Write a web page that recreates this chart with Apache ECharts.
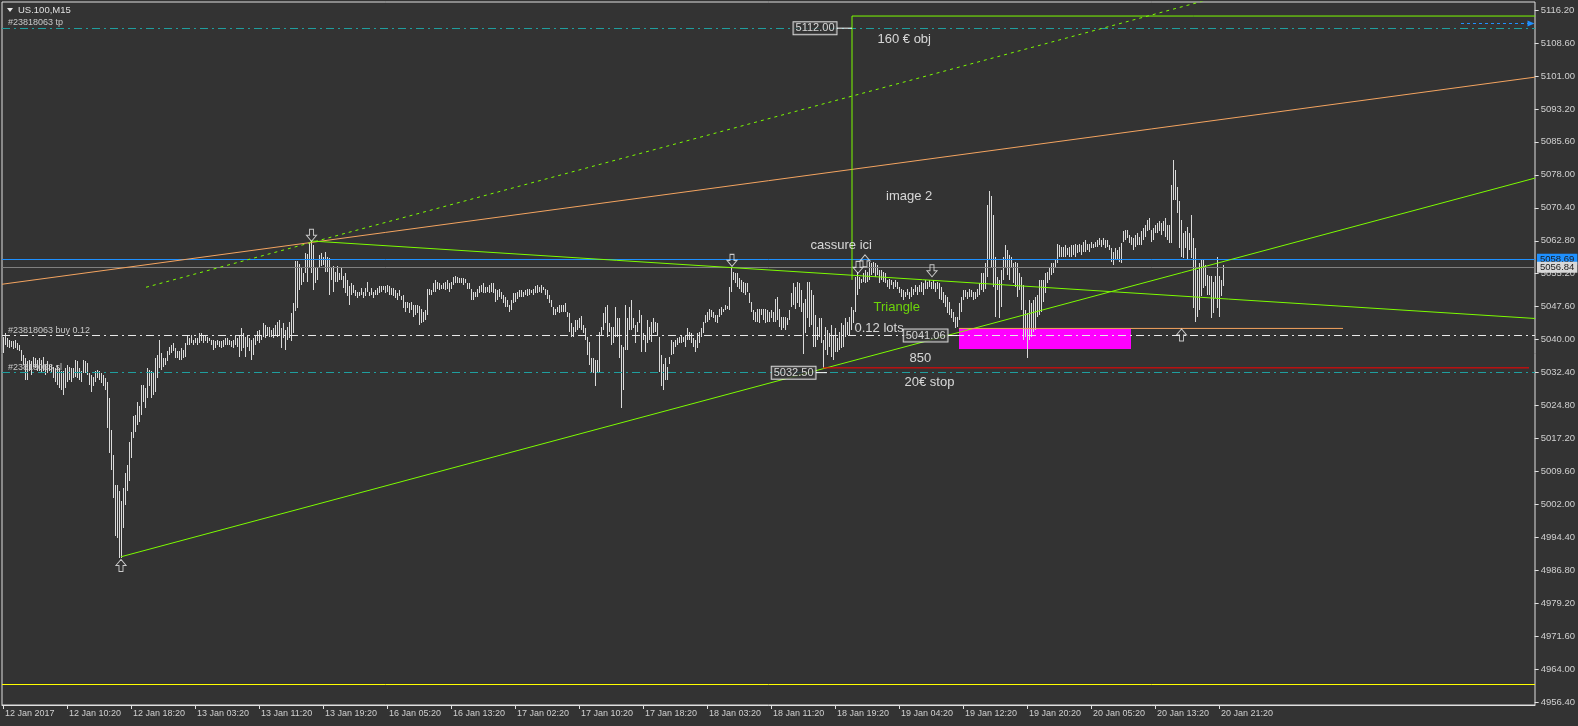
<!DOCTYPE html>
<html><head><meta charset="utf-8">
<script src="https://cdn.jsdelivr.net/npm/echarts@6/dist/echarts.min.js"></script>
<style>html,body{margin:0;padding:0;background:#333333;}#c{width:1578px;height:726px;}</style>
</head><body><div id="c"></div>
<script>
// ---- bar data (M15 bars, one per bar index) ----
const barHigh = [
5040.8,5041.6,5040.4,5040.1,5039.8,5039.7,5040.1,5039.3,5038.9,5037.8,5036.6,5035.8,5035.1,5035.4,5035.1,5036.2,5035.8,5035.4,5035.8,5035.4,
5036.2,5034.3,5035.1,5034.3,5034.3,5033.9,5033.5,5034.3,5033.5,5032.8,5032.8,5033.5,5034.3,5033.9,5033.5,5033.5,5035.4,5035.1,5033.5,5032.8,
5035.4,5035.1,5034.7,5032.4,5032.0,5031.6,5032.8,5033.1,5032.9,5032.4,5032.0,5031.2,5030.4,5026.6,5019.3,5013.5,5006.6,5006.6,5005.1,5002.8,
5005.8,5009.3,5011.2,5016.6,5018.9,5022.4,5022.8,5025.8,5024.7,5029.7,5029.7,5028.9,5033.5,5033.1,5032.8,5032.4,5035.8,5036.6,5040.1,5037.0,
5035.8,5035.8,5037.4,5038.5,5038.9,5039.3,5038.1,5037.4,5037.4,5038.1,5037.8,5039.3,5041.2,5040.4,5041.2,5040.1,5040.4,5040.4,5041.6,5041.6,
5041.2,5041.2,5040.8,5040.4,5040.1,5040.1,5039.7,5040.1,5039.7,5039.7,5040.1,5040.4,5040.4,5040.1,5039.7,5040.1,5041.2,5040.4,5041.2,5042.7,
5041.6,5040.8,5041.2,5040.4,5040.1,5040.4,5041.2,5042.0,5042.4,5041.2,5043.9,5043.5,5043.1,5043.1,5042.4,5042.7,5043.5,5044.3,5044.7,5042.7,
5043.9,5042.4,5043.1,5044.3,5046.2,5048.5,5058.3,5058.3,5057.5,5056.6,5055.4,5060.1,5059.8,5062.4,5062.8,5062.0,5056.6,5056.6,5059.7,5060.1,
5059.3,5060.4,5059.3,5058.9,5056.6,5057.0,5055.8,5057.0,5055.4,5056.6,5054.7,5055.4,5053.9,5052.4,5053.1,5052.8,5051.6,5051.2,5051.2,5052.0,
5051.2,5052.0,5053.5,5051.2,5052.0,5051.2,5051.6,5052.0,5052.4,5052.4,5052.4,5052.4,5052.8,5052.4,5052.0,5052.0,5051.6,5050.8,5051.6,5050.1,
5050.4,5048.9,5048.9,5048.5,5048.9,5048.1,5048.1,5048.1,5047.8,5047.3,5046.6,5046.9,5051.9,5051.9,5051.6,5053.1,5053.9,5053.5,5053.1,5052.7,
5053.1,5053.5,5053.9,5053.1,5053.5,5054.6,5054.8,5054.6,5054.3,5054.3,5054.3,5054.0,5053.3,5053.3,5051.9,5051.2,5051.2,5051.9,5052.5,5052.7,
5053.3,5052.3,5052.3,5052.7,5053.1,5053.3,5051.9,5051.6,5051.9,5051.2,5050.4,5050.0,5049.3,5048.1,5049.3,5050.8,5050.9,5051.2,5051.6,5051.6,
5051.2,5051.6,5051.7,5051.7,5051.6,5051.9,5052.5,5052.7,5052.3,5052.7,5052.3,5051.7,5051.6,5050.4,5049.3,5047.7,5047.3,5047.7,5048.1,5048.1,
5048.1,5048.5,5046.6,5046.2,5043.9,5043.1,5044.6,5044.6,5045.0,5045.6,5043.5,5042.7,5040.8,5039.6,5035.8,5035.8,5035.4,5035.4,5041.9,5043.1,
5046.2,5047.7,5048.1,5043.9,5043.1,5043.1,5047.7,5045.0,5045.0,5038.9,5038.5,5048.1,5045.0,5047.7,5049.3,5045.0,5043.5,5044.3,5046.9,5045.8,
5041.6,5041.2,5044.6,5043.1,5044.3,5045.0,5044.3,5043.9,5040.8,5036.6,5034.6,5035.8,5033.9,5036.2,5040.0,5039.6,5040.0,5040.4,5040.8,5041.2,
5040.8,5041.2,5042.7,5041.9,5041.6,5040.4,5040.0,5041.6,5041.9,5042.7,5044.3,5045.8,5046.6,5047.1,5046.9,5046.6,5045.8,5045.8,5047.3,5047.7,
5047.3,5048.1,5047.9,5052.3,5056.9,5055.8,5055.4,5055.4,5054.3,5053.9,5053.5,5053.1,5053.1,5050.8,5048.9,5046.9,5046.6,5047.3,5047.3,5047.3,
5047.3,5047.3,5046.9,5046.6,5046.9,5046.6,5049.6,5050.0,5047.3,5045.4,5045.4,5045.4,5045.0,5046.9,5050.8,5053.1,5052.3,5053.5,5053.1,5051.6,
5048.5,5049.6,5053.5,5053.5,5051.6,5050.4,5045.8,5043.1,5045.0,5045.0,5040.0,5043.1,5042.3,5041.6,5043.5,5041.2,5042.7,5040.4,5041.9,5043.9,
5043.5,5045.0,5044.3,5045.4,5047.7,5046.9,5054.6,5055.8,5054.6,
5054.2,5055.4,5056.2,5055.8,5058.1,5057.7,5058.1,5057.7,5057.3,5056.2,5056.2,5055.8,5055.4,5053.9,5054.2,5053.9,5053.5,5053.9,5053.5,5052.3,
5051.9,5051.6,5051.2,5051.9,5051.2,5052.3,5051.9,5052.7,5052.3,5052.7,5053.5,5053.1,5053.9,5053.5,5053.9,5053.5,5053.9,5053.1,5053.5,5053.1,
5052.3,5051.2,5050.4,5050.0,5048.9,5047.3,5046.6,5045.4,5045.4,5048.5,5050.0,5051.6,5051.6,5051.2,5051.9,5051.6,5051.2,5051.2,5051.9,5053.1,
5055.4,5055.4,5057.7,5071.2,5074.4,5073.3,5068.9,5059.2,5054.6,5053.9,5056.2,5059.2,5061.9,5060.8,5059.6,5059.2,5057.7,5058.1,5057.7,5055.4,
5054.6,5052.7,5046.9,5046.2,5049.2,5048.5,5049.2,5050.0,5050.4,5053.9,5053.9,5053.9,5055.4,5055.8,5056.9,5057.7,5057.7,5058.5,5062.3,5061.9,
5061.6,5061.6,5061.9,5061.2,5061.6,5061.9,5061.9,5062.3,5061.9,5062.3,5061.9,5062.7,5063.1,5062.3,5062.3,5062.7,5062.3,5062.7,5063.1,5063.5,
5063.1,5063.5,5063.1,5063.1,5062.0,5061.2,5060.4,5061.2,5060.8,5061.6,5062.4,5065.1,5065.4,5065.4,5064.3,5063.9,5063.5,5064.3,5064.7,5063.9,
5065.1,5065.8,5066.6,5067.7,5068.1,5065.4,5065.8,5066.6,5067.0,5067.4,5067.0,5067.4,5068.1,5066.6,5066.6,5075.8,5081.6,5079.3,5075.4,5072.0,
5067.7,5064.7,5065.1,5066.2,5064.7,5068.9,5063.5,5061.2,5056.2,5057.7,5058.5,5058.5,5057.4,5055.1,5054.7,5054.7,5053.5,5054.7,5059.3,5054.7,5053.9,5057.4
];
const barLow = [
5037.0,5038.9,5038.5,5038.1,5038.3,5038.0,5038.1,5037.8,5037.4,5035.1,5034.3,5030.8,5030.8,5032.8,5032.0,5033.9,5033.5,5032.8,5032.8,5032.4,
5032.8,5032.0,5032.4,5032.8,5032.4,5031.2,5030.4,5029.7,5028.9,5028.5,5027.4,5028.9,5030.4,5030.8,5030.4,5031.2,5031.6,5031.2,5030.8,5030.4,
5032.4,5032.4,5032.0,5029.7,5028.1,5029.3,5030.4,5031.2,5030.8,5030.1,5029.3,5028.5,5019.7,5013.9,5010.1,5003.5,4994.7,4994.3,4989.7,4989.7,
4996.6,5002.0,5005.1,5007.4,5012.8,5017.4,5018.9,5020.4,5021.2,5022.8,5025.8,5024.3,5026.6,5029.3,5026.6,5027.4,5028.1,5031.2,5033.5,5033.1,
5033.9,5034.3,5035.1,5036.6,5037.0,5037.4,5035.8,5035.8,5035.4,5035.4,5035.8,5036.2,5038.9,5038.9,5039.3,5038.9,5039.3,5038.9,5039.3,5039.7,
5039.3,5039.7,5039.3,5039.7,5038.9,5037.7,5038.1,5038.9,5038.5,5038.1,5038.5,5038.9,5038.9,5038.9,5038.5,5038.1,5038.9,5038.5,5036.2,5037.4,
5038.1,5036.2,5038.5,5037.4,5035.4,5036.6,5038.9,5039.7,5039.3,5040.1,5040.8,5040.4,5041.2,5040.8,5040.8,5040.4,5041.2,5040.8,5041.2,5038.1,
5040.4,5037.7,5040.1,5040.4,5039.7,5041.6,5046.8,5047.4,5051.6,5052.8,5053.5,5055.4,5053.5,5056.6,5055.4,5051.6,5053.1,5053.9,5056.6,5057.0,
5057.4,5055.8,5055.8,5050.4,5053.9,5051.2,5053.5,5053.5,5053.9,5053.9,5052.0,5050.8,5050.1,5048.1,5050.4,5050.8,5050.1,5049.7,5050.1,5050.4,
5049.7,5050.1,5051.2,5050.1,5050.4,5049.7,5050.4,5050.4,5050.8,5051.2,5051.6,5050.8,5051.2,5050.4,5050.4,5050.1,5049.7,5049.3,5050.1,5049.3,
5047.4,5046.6,5047.4,5046.2,5047.0,5045.4,5045.8,5046.2,5043.5,5043.9,5044.3,5044.6,5045.8,5050.4,5050.4,5051.2,5051.2,5051.9,5051.6,5051.9,
5051.9,5051.6,5051.9,5051.2,5051.9,5052.7,5053.1,5053.1,5053.1,5053.1,5052.7,5053.1,5051.7,5051.7,5049.3,5049.3,5050.0,5050.0,5050.8,5051.2,
5050.8,5050.8,5051.2,5050.8,5051.2,5050.8,5048.9,5049.3,5050.0,5049.6,5048.5,5047.7,5047.7,5046.6,5046.9,5048.5,5048.9,5049.6,5050.0,5050.0,
5050.0,5050.4,5050.2,5050.4,5050.8,5050.4,5050.8,5050.8,5051.2,5050.8,5051.6,5050.4,5049.6,5048.5,5047.7,5045.8,5045.8,5046.6,5046.2,5046.6,
5046.6,5046.6,5045.4,5041.9,5040.8,5040.8,5041.9,5042.3,5042.7,5042.3,5041.6,5040.0,5036.6,5034.3,5032.3,5032.3,5029.3,5032.7,5032.7,5041.2,
5042.3,5043.9,5040.8,5041.9,5038.9,5039.3,5040.8,5040.8,5035.8,5024.3,5028.5,5037.7,5037.7,5042.3,5042.3,5042.7,5039.3,5041.9,5043.9,5037.3,
5040.0,5037.3,5039.3,5040.0,5039.6,5041.6,5041.9,5041.2,5032.7,5029.3,5028.5,5030.8,5030.8,5034.6,5036.6,5036.9,5038.5,5038.9,5039.3,5039.3,
5039.6,5038.5,5040.0,5040.0,5039.3,5038.5,5037.3,5038.1,5039.3,5040.8,5041.6,5043.9,5044.3,5044.6,5045.4,5045.0,5044.3,5043.9,5045.4,5045.8,
5046.6,5046.9,5047.3,5046.9,5051.2,5053.9,5053.1,5052.3,5051.9,5051.2,5050.8,5050.4,5051.2,5048.5,5046.6,5044.6,5044.3,5044.3,5043.9,5045.8,
5044.6,5043.9,5044.3,5044.3,5045.0,5044.3,5044.3,5044.6,5043.1,5042.3,5042.7,5042.3,5043.5,5044.6,5047.7,5048.1,5047.3,5048.5,5047.7,5046.6,
5036.9,5041.6,5045.0,5043.1,5043.5,5038.5,5038.5,5040.0,5040.8,5039.3,5033.5,5037.7,5036.6,5038.5,5036.2,5035.4,5037.3,5037.3,5037.7,5038.1,
5038.5,5040.8,5041.2,5041.2,5042.3,5043.9,5046.6,5050.4,5051.9,
5053.1,5053.5,5053.1,5053.5,5053.9,5055.0,5055.4,5054.6,5055.0,5053.1,5053.9,5053.5,5053.1,5052.3,5051.9,5052.7,5051.9,5052.3,5051.9,5050.8,
5050.0,5049.2,5050.0,5050.4,5049.6,5050.0,5050.4,5051.2,5050.4,5051.2,5051.2,5050.4,5051.9,5051.9,5052.3,5051.9,5051.9,5051.2,5051.9,5049.6,
5049.2,5048.5,5047.7,5046.2,5045.8,5045.0,5044.2,5042.7,5043.1,5044.6,5046.6,5049.2,5050.0,5049.6,5050.0,5050.0,5049.2,5049.6,5050.0,5050.4,
5051.6,5051.2,5051.9,5054.6,5058.5,5056.9,5052.3,5045.3,5051.6,5045.0,5047.7,5053.9,5056.9,5055.0,5053.9,5056.9,5053.1,5052.3,5050.0,5051.6,
5046.9,5040.0,5040.8,5035.8,5040.0,5040.8,5041.9,5042.3,5045.4,5045.8,5046.6,5048.9,5050.8,5053.1,5053.9,5055.0,5055.4,5056.9,5057.7,5059.2,
5059.2,5059.2,5059.2,5059.6,5059.2,5059.2,5059.6,5059.2,5060.0,5060.4,5059.6,5060.4,5060.4,5060.8,5060.4,5061.2,5061.2,5061.6,5061.6,5061.9,
5061.6,5061.9,5061.2,5061.6,5060.8,5058.1,5057.4,5058.5,5058.5,5058.1,5057.7,5062.7,5063.1,5063.5,5062.4,5062.0,5060.8,5061.6,5062.0,5062.0,
5062.0,5063.1,5063.9,5065.1,5065.4,5062.7,5063.1,5064.7,5064.7,5065.1,5064.3,5065.1,5063.9,5063.1,5062.4,5062.4,5072.4,5072.4,5069.3,5061.2,
5059.3,5058.9,5061.2,5058.5,5060.8,5058.9,5047.4,5044.3,5045.4,5047.0,5050.1,5052.0,5052.4,5050.4,5050.4,5045.1,5046.2,5049.7,5047.4,5045.4,5050.1,5052.4
];

// ---- axes ----
const xTickBars = [0,32,64,96,128,160,192,224,256,288,320,352,384,416,448,480,512,544,576,608];
const xTickLabels = ['12 Jan 2017','12 Jan 10:20','12 Jan 18:20','13 Jan 03:20','13 Jan 11:20','13 Jan 19:20',
  '16 Jan 05:20','16 Jan 13:20','17 Jan 02:20','17 Jan 10:20','17 Jan 18:20','18 Jan 03:20','18 Jan 11:20',
  '18 Jan 19:20','19 Jan 04:20','19 Jan 12:20','19 Jan 20:20','20 Jan 05:20','20 Jan 13:20','20 Jan 21:20'];
const yTickLabels = ['4956.40','4964.00','4971.60','4979.20','4986.80','4994.40','5002.00','5009.60','5017.20',
  '5024.80','5032.40','5040.00','5047.60','5055.20','5062.80','5070.40','5078.00','5085.60','5093.20','5101.00',
  '5108.60','5116.20'];
const priceMin = 4955.79, priceMax = 5118.04;   // visible price range of the plot

// ---- trade levels ----
const tpPrice = 5112.00, buyPrice = 5041.06, slPrice = 5032.50;
const askPrice = 5058.69, bidPrice = 5056.84;
const stopLevel = 5033.6, yellowLevel = 4960.6, orangeLevel = 5042.7, targetLevel = 5114.8;

// ---- drawn objects (bar index, price) ----
const orangeTrend = [[-0.5, 5052.9], [766, 5100.7]];
const greenDotted = [[71.5, 5052.2], [766, 5139.0]];
const triLower = [[59, 4990.0], [766, 5077.4]];
const triUpper = [[153.5, 5062.9], [766, 5045.0]];
const breakLine = [[424.5, 5053.9], [424.5, targetLevel], [766, targetLevel]];
const stopLine = [[410, stopLevel], [763, stopLevel]];
const orangeShort = [[478, orangeLevel], [670, orangeLevel]];
const magentaZone = [[478, 5042.6], [564, 5037.95]];
const blueArrow = [[729, 5113.1], [764, 5113.1]];
const arrowsDown = [[154.25, 5064.2], [364.5, 5058.4], [427.5, 5056.8], [464.5, 5056.0]];
const arrowsUp = [[59, 4988.0], [431, 5058.3], [589.25, 5041.2]];
const notes = [
  {t:'cassure ici', i:403.5, p:5061.8, c:'#ffffff'},
  {t:'image 2', i:441.3, p:5073.2, c:'#ffffff'},
  {t:'160 € obj', i:437, p:5109.3, c:'#ffffff'},
  {t:'Triangle', i:435, p:5047.5, c:'#7cfc00'},
  {t:'0.12 lots', i:425.5, p:5042.6, c:'#ffffff'},
  {t:'850', i:453, p:5035.8, c:'#ffffff'},
  {t:'20€ stop', i:450.5, p:5030.2, c:'#ffffff'}
];
const priceTags = [
  {t:'5112.00', i:417, p:tpPrice, end:424.5},
  {t:'5032.50', i:406.5, p:slPrice, end:412},
  {t:'5041.06', i:472.5, p:buyPrice, end:477}
];

const FONT = 'Liberation Sans';
const AX = '#e0e0e0';
const BAR = '#dadada';
const GREEN = '#7cfc00';
const TEAL = '#1f9e9e';
const CLEAR = 'rgba(0,0,0,0)';
const upPath = 'path://M5,0 L10,6 L7,6 L7,12 L3,12 L3,6 L0,6 Z';
const downPath = 'path://M3,0 L7,0 L7,6 L10,6 L5,12 L0,6 L3,6 Z';

// layout of the main plot
const H = 726, G_TOP = 2, G_BOTTOM = 21, G_LEFT = 2, G_RIGHT = 43;
const plotH = H - G_TOP - G_BOTTOM;
function priceToPx(p){ return G_TOP + (priceMax - p) / (priceMax - priceMin) * plotH; }
// the price-scale labels sit on an evenly spaced scale from the first to the last label
const lblTop = priceToPx(Number(yTickLabels[yTickLabels.length-1]));
const lblBottom = priceToPx(Number(yTickLabels[0]));

function lineSeries(data, color, type, z) {
  return {type:'line', data:data, showSymbol:false, symbol:'none', silent:true, clip:true, z:z||3,
    lineStyle:{color:color, width:1, type:type||'solid'}};
}

const chart = echarts.init(document.getElementById('c'), null, {renderer:'canvas'});

const option = {
  animation:false,
  backgroundColor:'#333333',
  grid:[
    {left:G_LEFT, top:G_TOP, right:G_RIGHT, bottom:G_BOTTOM, show:true, borderColor:AX, borderWidth:1},
    {left:G_LEFT, right:G_RIGHT, top:lblTop, bottom:H - lblBottom, show:false}
  ],
  xAxis:[
    {type:'value', min:-0.5, max:766, splitLine:{show:false},
      axisLine:{show:true, onZero:false, lineStyle:{color:AX}},
      axisTick:{show:true, length:4, lineStyle:{color:AX}, customValues:xTickBars},
      axisLabel:{customValues:xTickBars, color:'#d0d0d0', fontFamily:FONT, fontSize:9, align:'left', margin:4,
        padding:[0,0,0,2], formatter:function(v){const k=xTickBars.indexOf(Math.round(v)); return k>=0?xTickLabels[k]:'';}}},
    {gridIndex:1, type:'value', min:0, max:1, show:false}
  ],
  yAxis:[
    {type:'value', min:priceMin, max:priceMax, show:false, splitLine:{show:false}, axisLine:{onZero:false}},
    {gridIndex:1, type:'value', position:'right', min:0, max:yTickLabels.length-1, interval:1, splitLine:{show:false},
      axisLine:{show:false, onZero:false}, axisTick:{show:true, length:4, lineStyle:{color:AX}},
      axisLabel:{color:'#d0d0d0', fontFamily:FONT, fontSize:9.5, margin:6,
        formatter:function(v){const k=Math.round(v); return yTickLabels[k] || '';}}}
  ],
  graphic:[
    {type:'polygon', shape:{points:[[7,8],[13,8],[10,12]]}, style:{fill:'#e8e8e8'}, z:100},
    {type:'text', x:18, y:5, style:{text:'US.100,M15', fill:'#e0e0e0', font:'9.5px '+FONT}, z:100}
  ],
  series:[
    {type:'line', data:[], silent:true, z:1,
      markArea:{silent:true, itemStyle:{color:'#ff00ff', opacity:1},
        data:[[{coord:magentaZone[0]},{coord:magentaZone[1]}]]}},
    {type:'line', data:[], silent:true, z:2,
      markLine:{silent:true, symbol:['none','none'], animation:false,
        data:[
          {yAxis:tpPrice, lineStyle:{color:TEAL, width:1, type:[8,4,2,4]},
            label:{show:true, position:'insideStartTop', formatter:'#23818063 tp', color:'#c8c8c8', fontFamily:FONT, fontSize:9, distance:[6,1]}},
          {yAxis:buyPrice, lineStyle:{color:'#e8e8e8', width:1, type:[8,4,2,4]},
            label:{show:true, position:'insideStartTop', formatter:'#23818063 buy 0.12', color:'#c8c8c8', fontFamily:FONT, fontSize:9, distance:[6,1]}},
          {yAxis:slPrice, lineStyle:{color:TEAL, width:1, type:[8,4,2,4]},
            label:{show:true, position:'insideStartTop', formatter:'#23818063 sl', color:'#c8c8c8', fontFamily:FONT, fontSize:9, distance:[6,1]}},
          {yAxis:askPrice, lineStyle:{color:'#1e90ff', width:1, type:'solid'},
            label:{show:true, position:'end', formatter:'5058.69', color:'#1a1a1a', backgroundColor:'#1e90ff', padding:[1,3,0,3], fontFamily:FONT, fontSize:9.5, distance:2}},
          {yAxis:bidPrice, lineStyle:{color:'#808080', width:1, type:'solid'},
            label:{show:true, position:'end', formatter:'5056.84', color:'#1a1a1a', backgroundColor:'#d8d8d8', padding:[1,3,0,3], fontFamily:FONT, fontSize:9.5, distance:2}},
          {yAxis:yellowLevel, lineStyle:{color:'#ffff00', width:1, type:'solid'}, label:{show:false}}
        ]}},
    {type:'custom', z:4, silent:true, clip:true,
      data:barHigh.map(function(h,i){return [i,h,barLow[i]];}),
      encode:{x:0, y:[1,2]},
      renderItem:function(params, api){
        const t = api.coord([api.value(0), api.value(1)]);
        const b = api.coord([api.value(0), api.value(2)]);
        const y0 = Math.round(t[1]), y1 = Math.round(b[1]);
        return {type:'rect', shape:{x:Math.floor(t[0]), y:y0, width:1, height:Math.max(1, y1-y0)}, style:{fill:BAR}};
      }},
    lineSeries(orangeTrend, '#f4a460', 'solid', 5),
    lineSeries(greenDotted, GREEN, [3,4], 5),
    lineSeries(triLower, GREEN, 'solid', 5),
    lineSeries(triUpper, GREEN, 'solid', 5),
    lineSeries(breakLine, GREEN, 'solid', 5),
    lineSeries(stopLine, '#ff0000', 'solid', 5),
    lineSeries(orangeShort, '#f4a460', 'solid', 5),
    {type:'line', data:[], silent:true, z:5,
      markLine:{silent:true, symbol:['none','triangle'], symbolSize:[6,7], animation:false, label:{show:false},
        lineStyle:{color:'#1e90ff', width:1, type:[3,3]},
        data:[[{coord:blueArrow[0]},{coord:blueArrow[1]}]]}},
    ...priceTags.map(function(g){ return lineSeries([[g.i,g.p],[g.end,g.p]], '#ffffff', 'solid', 6); }),
    {type:'scatter', z:7, silent:true, symbolSize:1, itemStyle:{color:CLEAR},
      data:priceTags.map(function(g){return {value:[g.i,g.p], name:g.t};}),
      label:{show:true, position:'left', distance:0, formatter:'{b}', color:'#ffffff', fontFamily:FONT, fontSize:11,
        backgroundColor:'#333333', borderColor:'#ffffff', borderWidth:1, padding:[1,2,0,2]}},
    {type:'scatter', z:8, silent:true, symbol:downPath, symbolSize:[10,12],
      itemStyle:{color:CLEAR, borderColor:'#f0f0f0', borderWidth:1}, data:arrowsDown},
    {type:'scatter', z:8, silent:true, symbol:upPath, symbolSize:[10,12],
      itemStyle:{color:CLEAR, borderColor:'#f0f0f0', borderWidth:1}, data:arrowsUp},
    {type:'scatter', z:9, silent:true, symbolSize:1, itemStyle:{color:CLEAR},
      data:notes.map(function(n){return {value:[n.i,n.p], name:n.t, label:{color:n.c}};}),
      label:{show:true, position:'right', distance:0, formatter:'{b}', fontFamily:FONT, fontSize:13}}
  ]
};
chart.setOption(option);
</script>
</body></html>
